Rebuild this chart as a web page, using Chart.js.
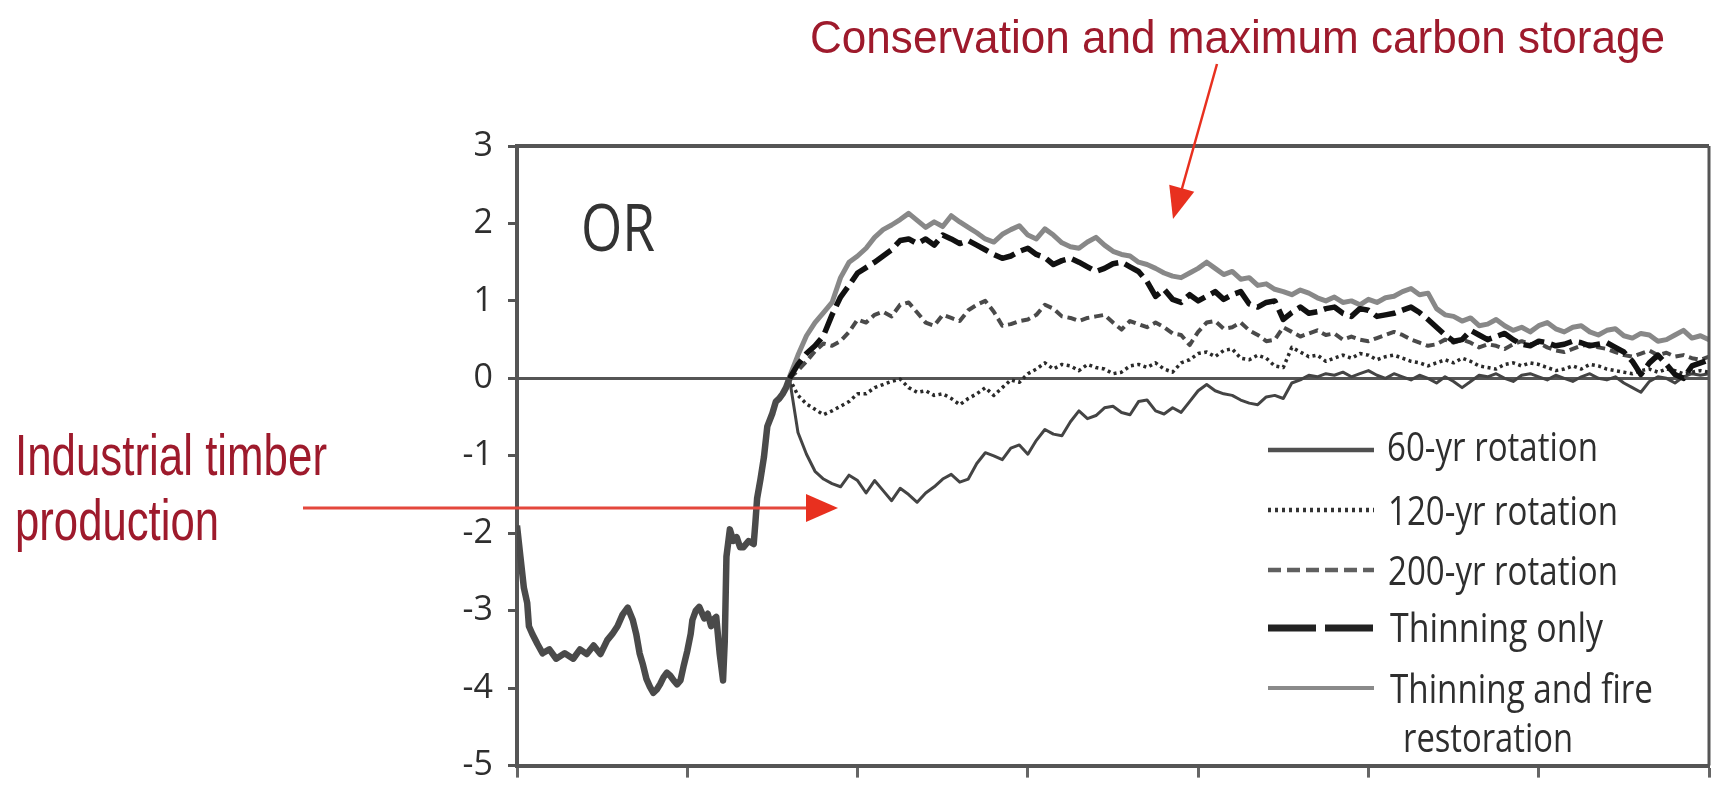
<!DOCTYPE html>
<html>
<head>
<meta charset="utf-8">
<script src="https://cdn.jsdelivr.net/npm/chart.js@4.4.1/dist/chart.umd.min.js"></script>
<style>
  html, body { margin: 0; padding: 0; background: #fff; }
  canvas { display: block; }
</style>
</head>
<body>
<canvas id="orChart" width="1718" height="801"></canvas>
<script>
// shared history before the scenarios split (years, index value)
const historyYears = [0,2,4,6,7,9,12,15,19,23, 28,33,37,41,45,49,53,56,59,62,
  65,68,70,72,74,76,78,80,82,84, 86,88,90,92,94,96,98,100,102,103,
  105,107,110,112,114,115,117,119,121,122, 123,125,127,129,131,133,136,139,140,141,
  143,145,147,150,152,154,156,158,160];
const historyValues = [-1.9,-2.3,-2.7,-2.9,-3.2,-3.3,-3.43,-3.55,-3.5,-3.62,
  -3.55,-3.62,-3.5,-3.56,-3.45,-3.56,-3.38,-3.3,-3.2,-3.05,
  -2.96,-3.12,-3.3,-3.55,-3.7,-3.88,-3.98,-4.06,-4.02,-3.95,
  -3.86,-3.8,-3.84,-3.9,-3.95,-3.9,-3.7,-3.52,-3.3,-3.12,
  -3.0,-2.95,-3.1,-3.04,-3.2,-3.12,-3.08,-3.55,-3.9,-3.4,
  -2.3,-1.95,-2.1,-2.05,-2.18,-2.18,-2.1,-2.14,-1.86,-1.55,
  -1.3,-1.02,-0.62,-0.45,-0.3,-0.26,-0.2,-0.12,0.0];

// years after the split
const scenarioYears = [160,165,170,175,180,185,190,195,200,205,
  210,215,220,225,230,235,240,245,250,255,
  260,265,270,275,280,285,290,295,300,305,
  310,315,320,325,330,335,340,345,350,355,
  360,365,370,375,380,385,390,395,400,405,
  410,415,420,425,430,435,440,445,450,455,
  460,465,470,475,480,485,490,495,500,505,
  510,515,520,525,530,535,540,545,550,555,
  560,565,570,575,580,585,590,595,600,605,
  610,615,620,625,630,635,640,645,650,655,
  660,665,670,675,680,685,690,695,700];

const rot60 = [0.0,-0.7,-0.98,-1.2,-1.3,-1.36,-1.4,-1.25,-1.32,-1.48,
  -1.32,-1.45,-1.58,-1.42,-1.5,-1.6,-1.48,-1.4,-1.3,-1.24,
  -1.34,-1.3,-1.1,-0.96,-1.0,-1.05,-0.9,-0.86,-0.98,-0.8,
  -0.66,-0.72,-0.74,-0.56,-0.42,-0.52,-0.48,-0.38,-0.36,-0.44,
  -0.47,-0.3,-0.28,-0.42,-0.46,-0.38,-0.44,-0.3,-0.16,-0.08,
  -0.16,-0.2,-0.22,-0.28,-0.32,-0.34,-0.24,-0.22,-0.26,-0.06,
  -0.02,0.04,0.02,0.06,0.04,0.08,0.02,0.06,0.1,0.04,
  0.0,0.06,0.02,-0.02,0.04,0.0,-0.06,0.02,-0.04,-0.12,
  -0.04,0.04,0.02,0.06,0.0,-0.04,0.04,0.06,0.02,-0.02,
  0.04,0.0,-0.04,0.02,0.06,0.0,-0.02,0.02,-0.06,-0.12,
  -0.18,-0.04,0.02,0.0,-0.06,0.02,0.06,0.04,0.06];

const rot120 = [0.0,-0.22,-0.33,-0.4,-0.47,-0.42,-0.36,-0.3,-0.2,-0.2,
  -0.12,-0.08,-0.04,-0.01,-0.12,-0.18,-0.16,-0.22,-0.2,-0.26,
  -0.34,-0.26,-0.2,-0.12,-0.22,-0.12,-0.02,-0.05,0.06,0.12,
  0.2,0.12,0.18,0.16,0.1,0.18,0.14,0.12,0.06,0.08,
  0.16,0.18,0.14,0.2,0.12,0.08,0.2,0.24,0.32,0.34,
  0.28,0.36,0.38,0.26,0.24,0.3,0.26,0.16,0.14,0.4,
  0.34,0.28,0.3,0.22,0.26,0.3,0.26,0.32,0.3,0.24,
  0.28,0.3,0.26,0.22,0.2,0.16,0.2,0.24,0.2,0.26,
  0.22,0.16,0.14,0.12,0.18,0.2,0.16,0.2,0.18,0.14,
  0.1,0.12,0.16,0.12,0.18,0.16,0.12,0.1,0.08,0.06,
  0.1,0.12,0.08,0.12,0.1,0.06,0.08,0.1,0.08];

const rot200 = [0.0,0.1,0.22,0.35,0.45,0.42,0.48,0.6,0.76,0.72,
  0.82,0.86,0.8,0.95,0.98,0.85,0.72,0.68,0.82,0.78,
  0.74,0.88,0.95,1.0,0.86,0.68,0.7,0.74,0.76,0.82,
  0.95,0.9,0.8,0.78,0.74,0.78,0.8,0.82,0.72,0.63,
  0.74,0.7,0.66,0.72,0.66,0.58,0.56,0.43,0.6,0.72,
  0.74,0.64,0.66,0.72,0.62,0.56,0.48,0.5,0.66,0.6,
  0.54,0.58,0.62,0.56,0.58,0.5,0.54,0.5,0.48,0.52,
  0.56,0.6,0.56,0.5,0.46,0.42,0.44,0.5,0.46,0.5,
  0.46,0.4,0.44,0.42,0.38,0.44,0.48,0.44,0.46,0.4,
  0.36,0.34,0.38,0.42,0.44,0.4,0.38,0.34,0.3,0.28,
  0.32,0.36,0.3,0.33,0.28,0.3,0.26,0.24,0.28];

const thinOnly = [0.0,0.18,0.32,0.42,0.55,0.82,1.05,1.2,1.36,1.43,
  1.5,1.58,1.66,1.78,1.8,1.74,1.8,1.72,1.85,1.8,
  1.74,1.78,1.72,1.66,1.6,1.55,1.58,1.64,1.68,1.6,
  1.56,1.47,1.52,1.55,1.5,1.44,1.38,1.42,1.48,1.5,
  1.44,1.38,1.25,1.06,1.15,1.02,0.98,1.08,1.0,1.06,
  1.12,1.02,1.08,1.12,0.96,0.92,0.98,1.0,0.76,0.85,
  0.92,0.84,0.86,0.9,0.92,0.84,0.8,0.9,0.88,0.8,
  0.82,0.84,0.88,0.92,0.85,0.76,0.66,0.56,0.48,0.5,
  0.62,0.56,0.5,0.54,0.58,0.5,0.44,0.42,0.48,0.46,
  0.42,0.44,0.48,0.46,0.42,0.44,0.46,0.4,0.34,0.22,
  0.05,0.2,0.3,0.18,0.05,0.0,0.16,0.2,0.24];

const thinFire = [0.02,0.3,0.55,0.72,0.85,0.98,1.3,1.5,1.58,1.68,
  1.82,1.92,1.98,2.05,2.13,2.04,1.95,2.02,1.96,2.1,
  2.02,1.95,1.88,1.8,1.76,1.86,1.92,1.97,1.85,1.8,
  1.93,1.85,1.75,1.7,1.68,1.76,1.82,1.72,1.64,1.6,
  1.58,1.5,1.47,1.42,1.36,1.32,1.3,1.36,1.42,1.5,
  1.42,1.34,1.38,1.28,1.3,1.2,1.22,1.15,1.12,1.08,
  1.14,1.1,1.04,1.0,1.05,0.98,1.0,0.95,1.02,0.98,
  1.04,1.06,1.12,1.16,1.08,1.1,0.9,0.82,0.8,0.74,
  0.78,0.68,0.7,0.76,0.68,0.62,0.66,0.6,0.68,0.72,
  0.64,0.6,0.66,0.68,0.6,0.56,0.62,0.64,0.55,0.52,
  0.58,0.56,0.48,0.5,0.56,0.62,0.52,0.55,0.5];

const legendLabels = ['60-yr rotation', '120-yr rotation', '200-yr rotation', 'Thinning only', 'Thinning and fire'];
const yTicks = [3, 2, 1, 0, -1, -2, -3, -4, -5];

function pts(xs, ys) {
  return xs.map((x, i) => ({ x: x, y: ys[i] }));
}

// draw text squeezed/stretched to a given width
function fitText(ctx, text, x, y, width, font, color) {
  ctx.save();
  ctx.font = font;
  const w = ctx.measureText(text).width;
  ctx.translate(x, y);
  ctx.scale(width / w, 1);
  ctx.fillStyle = color;
  ctx.textAlign = 'left';
  ctx.textBaseline = 'alphabetic';
  ctx.fillText(text, 0, 0);
  ctx.restore();
}

function arrowHead(ctx, tipX, tipY, fromX, fromY, len, half, color) {
  const a = Math.atan2(tipY - fromY, tipX - fromX);
  ctx.save();
  ctx.translate(tipX, tipY);
  ctx.rotate(a);
  ctx.beginPath();
  ctx.moveTo(0, 0);
  ctx.lineTo(-len, -half);
  ctx.lineTo(-len, half);
  ctx.closePath();
  ctx.fillStyle = color;
  ctx.fill();
  ctx.restore();
}

const extras = {
  id: 'extras',
  afterDraw(chart) {
    const ctx = chart.ctx;
    const a = chart.chartArea;

    // top and right frame
    ctx.save();
    ctx.strokeStyle = '#555';
    ctx.lineWidth = 4;
    ctx.beginPath();
    ctx.moveTo(a.left - 2, a.top);
    ctx.lineTo(a.right, a.top);
    ctx.stroke();
    ctx.lineWidth = 3;
    ctx.beginPath();
    ctx.moveTo(a.right, a.top);
    ctx.lineTo(a.right, a.bottom);
    ctx.stroke();
    ctx.restore();

    // panel label
    fitText(ctx, 'OR', 581, 251, 74, '66px "Open Sans"', '#333');

    // legend
    const rows = [450, 510, 570, 628, 688];
    const base = [461, 525, 585, 642, 703];
    const textX = [1387, 1388, 1388, 1390, 1390];
    const textW = [211, 230, 230, 213, 263];
    const styles = [
      { c: '#505050', w: 4.5, d: [] },
      { c: '#333', w: 4.5, d: [3, 4] },
      { c: '#606060', w: 4.5, d: [13, 6] },
      { c: '#222', w: 7, d: [48, 9] },
      { c: '#8a8a8a', w: 4, d: [] }
    ];
    rows.forEach((y, i) => {
      const s = styles[i];
      ctx.save();
      ctx.strokeStyle = s.c;
      ctx.lineWidth = s.w;
      ctx.setLineDash(s.d);
      ctx.beginPath();
      ctx.moveTo(1268, y);
      ctx.lineTo(1374, y);
      ctx.stroke();
      ctx.restore();
      fitText(ctx, legendLabels[i], textX[i], base[i], textW[i], '41px "Open Sans"', '#2e2e2e');
    });
    fitText(ctx, 'restoration', 1403, 752, 170, '41px "Open Sans"', '#2e2e2e');

    // red annotations
    const red = '#e8301f';
    const dark = '#9e1a2c';
    fitText(ctx, 'Conservation and maximum carbon storage', 810, 53, 855, '46px "Liberation Sans"', dark);
    ctx.save();
    ctx.strokeStyle = red;
    ctx.lineWidth = 2.5;
    ctx.beginPath();
    ctx.moveTo(1217, 64);
    ctx.lineTo(1181, 192);
    ctx.stroke();
    ctx.restore();
    arrowHead(ctx, 1173, 219, 1217, 64, 32, 13, red);

    fitText(ctx, 'Industrial timber', 15, 475, 312, '58px "Liberation Sans"', dark);
    fitText(ctx, 'production', 15, 540, 204, '58px "Liberation Sans"', dark);
    ctx.save();
    ctx.strokeStyle = '#e4473c';
    ctx.lineWidth = 3;
    ctx.beginPath();
    ctx.moveTo(303, 508);
    ctx.lineTo(812, 508);
    ctx.stroke();
    ctx.restore();
    arrowHead(ctx, 838, 508, 303, 508, 32, 14, red);
  }
};

const ctx = document.getElementById('orChart').getContext('2d');

const chart = new Chart(ctx, {
  type: 'line',
  data: {
    datasets: [
      {
        label: 'history',
        data: pts(historyYears, historyValues),
        borderColor: '#4a4a4a',
        borderWidth: 6.5,
        order: 0
      },
      {
        label: legendLabels[3],
        data: pts(scenarioYears, thinOnly),
        borderColor: '#111',
        borderWidth: 5.5,
        borderDash: [22, 7],
        order: 1
      },
      {
        label: legendLabels[2],
        data: pts(scenarioYears, rot200),
        borderColor: '#4a4a4a',
        borderWidth: 4,
        borderDash: [9, 5],
        order: 2
      },
      {
        label: legendLabels[1],
        data: pts(scenarioYears, rot120),
        borderColor: '#2a2a2a',
        borderWidth: 3.5,
        borderDash: [3, 3.5],
        order: 3
      },
      {
        label: legendLabels[0],
        data: pts(scenarioYears, rot60),
        borderColor: '#444',
        borderWidth: 3,
        order: 4
      },
      {
        label: legendLabels[4],
        data: pts(scenarioYears, thinFire),
        borderColor: '#888',
        borderWidth: 5,
        order: 5
      }
    ]
  },
  options: {
    responsive: false,
    animation: false,
    layout: { padding: { top: 146, right: 9, left: 0, bottom: 0 } },
    elements: {
      point: { radius: 0 },
      line: { tension: 0, fill: false, borderJoinStyle: 'round' }
    },
    plugins: {
      legend: { display: false },
      tooltip: { enabled: false }
    },
    scales: {
      x: {
        type: 'linear',
        min: 0,
        max: 700,
        afterFit: function (s) { s.height = 23; },
        ticks: { display: false, stepSize: 100 },
        grid: {
          drawOnChartArea: false,
          drawTicks: true,
          tickLength: 12,
          tickColor: '#666',
          tickWidth: 3
        },
        border: { display: true, color: '#555', width: 4 }
      },
      y: {
        min: -5,
        max: 3,
        afterFit: function (s) { s.width = 517; },
        afterBuildTicks: function (s) { s.ticks = yTicks.map(v => ({ value: v })); },
        ticks: {
          stepSize: 1,
          padding: 15,
          color: '#2e2e2e',
          font: { family: '"Open Sans"', size: 34 }
        },
        grid: {
          color: function (c) { return c.tick && c.tick.value === 0 ? '#555' : 'rgba(0,0,0,0)'; },
          lineWidth: 3,
          tickLength: 9,
          tickColor: '#555',
          tickWidth: 3
        },
        border: { display: true, color: '#555', width: 4 }
      }
    }
  },
  plugins: [extras]
});
</script>
</body>
</html>
